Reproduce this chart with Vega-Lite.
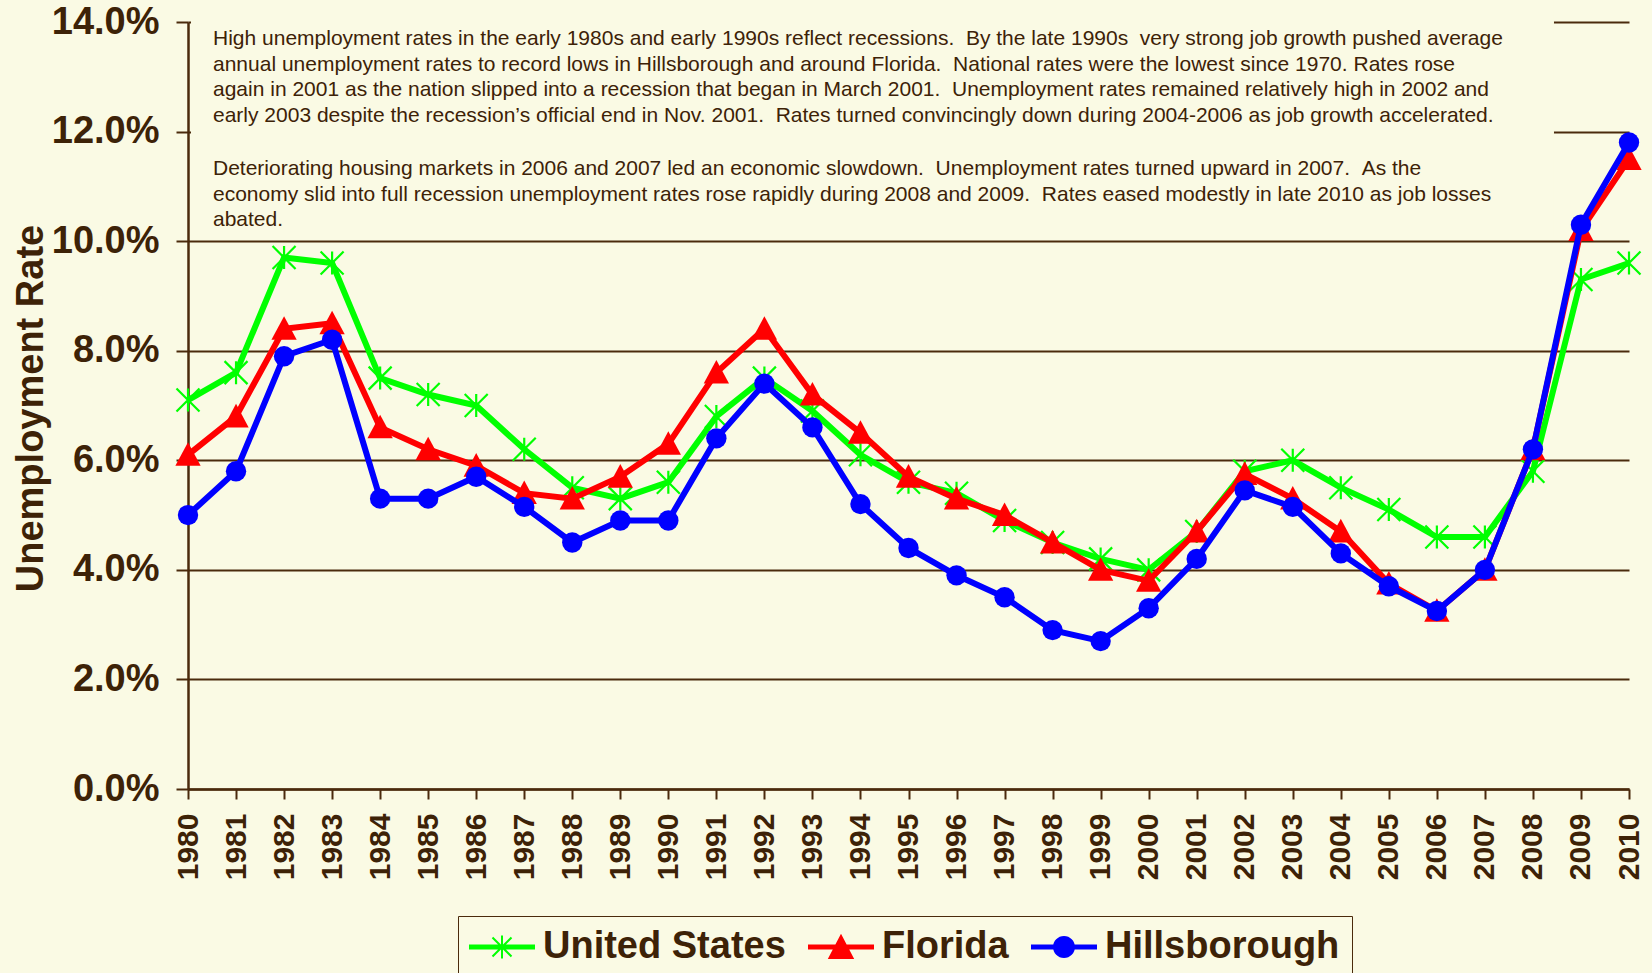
{
  "$schema": "https://vega.github.io/schema/vega-lite/v6.json",
  "width": 1441,
  "height": 767,
  "autosize": {"type": "none"},
  "padding": {"left": 188, "top": 22, "right": 23, "bottom": 184},
  "background": "#fafae4",
  "config": {
    "view": {"stroke": null},
    "font": "Liberation Sans",
    "axisX": {
      "format": "d",
      "labelAngle": 270,
      "labelAlign": "right",
      "labelBaseline": "middle",
      "labelFontSize": 30,
      "labelFontWeight": "bold",
      "labelColor": "#3d2207",
      "labelPadding": 14,
      "labelFlush": false,
      "labelOverlap": false,
      "tickSize": 10,
      "tickWidth": 2,
      "tickColor": "#4a2a0c",
      "domainColor": "#4a2a0c",
      "domainWidth": 2.5,
      "grid": false
    },
    "axisY": {
      "labelExpr": "format(datum.value, '.1f') + '%'",
      "labelFontSize": 38,
      "labelFontWeight": "bold",
      "labelColor": "#3d2207",
      "labelPadding": 17,
      "labelFlush": false,
      "labelOverlap": false,
      "tickSize": 12,
      "tickWidth": 2,
      "tickColor": "#4a2a0c",
      "domainColor": "#4a2a0c",
      "domainWidth": 2.5,
      "grid": true,
      "gridColor": "#4a2a0c",
      "gridWidth": 2,
      "gridOpacity": 1,
      "titleFontSize": 38,
      "titleFontWeight": "bold",
      "titleColor": "#3d2207",
      "titleAngle": 270,
      "titleX": -146,
      "titleY": 386,
      "titleAlign": "center",
      "titleBaseline": "alphabetic"
    },
    "legend": {
      "orient": "none",
      "legendX": 270,
      "legendY": 894,
      "direction": "horizontal",
      "fillColor": "#fafae4",
      "strokeColor": "#4a2a0c",
      "padding": 12,
      "labelFontSize": 38,
      "labelFontWeight": "bold",
      "labelColor": "#3d2207",
      "labelFont": "Liberation Sans",
      "labelLimit": 500,
      "symbolSize": 484,
      "symbolOffset": 13,
      "labelOffset": 22,
      "columnPadding": 22,
      "symbolStrokeWidth": 0
    }
  },
  "datasets": {
    "rates": [
      {"year":1980,"series":"United States","rate":7.1},{"year":1981,"series":"United States","rate":7.6},{"year":1982,"series":"United States","rate":9.7},{"year":1983,"series":"United States","rate":9.6},{"year":1984,"series":"United States","rate":7.5},{"year":1985,"series":"United States","rate":7.2},{"year":1986,"series":"United States","rate":7.0},{"year":1987,"series":"United States","rate":6.2},{"year":1988,"series":"United States","rate":5.5},{"year":1989,"series":"United States","rate":5.3},{"year":1990,"series":"United States","rate":5.6},{"year":1991,"series":"United States","rate":6.8},{"year":1992,"series":"United States","rate":7.5},{"year":1993,"series":"United States","rate":6.9},{"year":1994,"series":"United States","rate":6.1},{"year":1995,"series":"United States","rate":5.6},{"year":1996,"series":"United States","rate":5.4},{"year":1997,"series":"United States","rate":4.9},{"year":1998,"series":"United States","rate":4.5},{"year":1999,"series":"United States","rate":4.2},{"year":2000,"series":"United States","rate":4.0},{"year":2001,"series":"United States","rate":4.7},{"year":2002,"series":"United States","rate":5.8},{"year":2003,"series":"United States","rate":6.0},{"year":2004,"series":"United States","rate":5.5},{"year":2005,"series":"United States","rate":5.1},{"year":2006,"series":"United States","rate":4.6},{"year":2007,"series":"United States","rate":4.6},{"year":2008,"series":"United States","rate":5.8},{"year":2009,"series":"United States","rate":9.3},{"year":2010,"series":"United States","rate":9.6},
      {"year":1980,"series":"Florida","rate":6.1},{"year":1981,"series":"Florida","rate":6.8},{"year":1982,"series":"Florida","rate":8.4},{"year":1983,"series":"Florida","rate":8.5},{"year":1984,"series":"Florida","rate":6.6},{"year":1985,"series":"Florida","rate":6.2},{"year":1986,"series":"Florida","rate":5.9},{"year":1987,"series":"Florida","rate":5.4},{"year":1988,"series":"Florida","rate":5.3},{"year":1989,"series":"Florida","rate":5.7},{"year":1990,"series":"Florida","rate":6.3},{"year":1991,"series":"Florida","rate":7.6},{"year":1992,"series":"Florida","rate":8.4},{"year":1993,"series":"Florida","rate":7.2},{"year":1994,"series":"Florida","rate":6.5},{"year":1995,"series":"Florida","rate":5.7},{"year":1996,"series":"Florida","rate":5.3},{"year":1997,"series":"Florida","rate":5.0},{"year":1998,"series":"Florida","rate":4.5},{"year":1999,"series":"Florida","rate":4.0},{"year":2000,"series":"Florida","rate":3.8},{"year":2001,"series":"Florida","rate":4.7},{"year":2002,"series":"Florida","rate":5.75},{"year":2003,"series":"Florida","rate":5.3},{"year":2004,"series":"Florida","rate":4.7},{"year":2005,"series":"Florida","rate":3.75},{"year":2006,"series":"Florida","rate":3.25},{"year":2007,"series":"Florida","rate":4.0},{"year":2008,"series":"Florida","rate":6.2},{"year":2009,"series":"Florida","rate":10.2},{"year":2010,"series":"Florida","rate":11.5},
      {"year":1980,"series":"Hillsborough","rate":5.0},{"year":1981,"series":"Hillsborough","rate":5.8},{"year":1982,"series":"Hillsborough","rate":7.9},{"year":1983,"series":"Hillsborough","rate":8.2},{"year":1984,"series":"Hillsborough","rate":5.3},{"year":1985,"series":"Hillsborough","rate":5.3},{"year":1986,"series":"Hillsborough","rate":5.7},{"year":1987,"series":"Hillsborough","rate":5.15},{"year":1988,"series":"Hillsborough","rate":4.5},{"year":1989,"series":"Hillsborough","rate":4.9},{"year":1990,"series":"Hillsborough","rate":4.9},{"year":1991,"series":"Hillsborough","rate":6.4},{"year":1992,"series":"Hillsborough","rate":7.4},{"year":1993,"series":"Hillsborough","rate":6.6},{"year":1994,"series":"Hillsborough","rate":5.2},{"year":1995,"series":"Hillsborough","rate":4.4},{"year":1996,"series":"Hillsborough","rate":3.9},{"year":1997,"series":"Hillsborough","rate":3.5},{"year":1998,"series":"Hillsborough","rate":2.9},{"year":1999,"series":"Hillsborough","rate":2.7},{"year":2000,"series":"Hillsborough","rate":3.3},{"year":2001,"series":"Hillsborough","rate":4.2},{"year":2002,"series":"Hillsborough","rate":5.45},{"year":2003,"series":"Hillsborough","rate":5.15},{"year":2004,"series":"Hillsborough","rate":4.3},{"year":2005,"series":"Hillsborough","rate":3.7},{"year":2006,"series":"Hillsborough","rate":3.25},{"year":2007,"series":"Hillsborough","rate":4.0},{"year":2008,"series":"Hillsborough","rate":6.2},{"year":2009,"series":"Hillsborough","rate":10.3},{"year":2010,"series":"Hillsborough","rate":11.8}
    ],
    "notes": [
      {"para": 1, "note": [
        "High unemployment rates in the early 1980s and early 1990s reflect recessions. \u00a0By the late 1990s \u00a0very strong job growth pushed average",
        "annual unemployment rates to record lows in Hillsborough and around Florida. \u00a0National rates were the lowest since 1970. Rates rose",
        "again in 2001 as the nation slipped into a recession that began in March 2001. \u00a0Unemployment rates remained relatively high in 2002 and",
        "early 2003 despite the recession’s official end in Nov. 2001. \u00a0Rates turned convincingly down during 2004-2006 as job growth accelerated."
      ]},
      {"para": 2, "note": [
        "Deteriorating housing markets in 2006 and 2007 led an economic slowdown. \u00a0Unemployment rates turned upward in 2007. \u00a0As the",
        "economy slid into full recession unemployment rates rose rapidly during 2008 and 2009. \u00a0Rates eased modestly in late 2010 as job losses",
        "abated."
      ]}
    ]
  },
  "data": {"name": "rates"},
  "layer": [
    {
      "mark": {"type": "rect", "fill": "#fafae4"},
      "encoding": {
        "x": {"datum": 1980.07, "type": "quantitative", "scale": {"domain": [1980, 2010], "nice": false, "zero": false}, "title": null,
          "axis": {"values": [1980,1981,1982,1983,1984,1985,1986,1987,1988,1989,1990,1991,1992,1993,1994,1995,1996,1997,1998,1999,2000,2001,2002,2003,2004,2005,2006,2007,2008,2009,2010]}},
        "x2": {"datum": 2008.42},
        "y": {"datum": 10.06, "type": "quantitative", "scale": {"domain": [0, 14], "nice": false, "zero": true}, "title": "Unemployment Rate",
          "axis": {"values": [0,2,4,6,8,10,12,14]}},
        "y2": {"datum": 14.5}
      }
    },
    {
      "data": {"name": "notes"},
      "transform": [{"filter": "datum.para === 1"}],
      "mark": {"type": "text", "align": "left", "baseline": "alphabetic", "dx": 25, "dy": 23, "fontSize": 21, "lineHeight": 25.7, "color": "#3d2207", "font": "Liberation Sans"},
      "encoding": {
        "x": {"datum": 1980, "type": "quantitative", "title": null},
        "y": {"datum": 14, "type": "quantitative", "title": "Unemployment Rate"},
        "text": {"field": "note", "type": "nominal"}
      }
    },
    {
      "data": {"name": "notes"},
      "transform": [{"filter": "datum.para === 2"}],
      "mark": {"type": "text", "align": "left", "baseline": "alphabetic", "dx": 25, "dy": 153, "fontSize": 21, "lineHeight": 25.7, "color": "#3d2207", "font": "Liberation Sans"},
      "encoding": {
        "x": {"datum": 1980, "type": "quantitative", "title": null},
        "y": {"datum": 14, "type": "quantitative", "title": "Unemployment Rate"},
        "text": {"field": "note", "type": "nominal"}
      }
    },
    {
      "transform": [{"filter": "datum.series === 'United States'"}],
      "mark": {"type": "line", "color": "#00ff00", "strokeWidth": 6,
        "point": {"shape": "M0,-1L0,1M-1,-1L1,1M-1,1L1,-1", "filled": false, "size": 529, "strokeWidth": 2.2, "color": "#00ff00", "opacity": 1}},
      "encoding": {
        "x": {"field": "year", "type": "quantitative", "title": null},
        "y": {"field": "rate", "type": "quantitative", "title": "Unemployment Rate"}
      }
    },
    {
      "transform": [{"filter": "datum.series === 'Florida'"}],
      "mark": {"type": "line", "color": "#ff0000", "strokeWidth": 6,
        "point": {"shape": "M0,-1.1L1.1,0.95L-1.1,0.95Z", "filled": true, "size": 529, "color": "#ff0000", "opacity": 1}},
      "encoding": {
        "x": {"field": "year", "type": "quantitative", "title": null},
        "y": {"field": "rate", "type": "quantitative", "title": "Unemployment Rate"}
      }
    },
    {
      "transform": [{"filter": "datum.series === 'Hillsborough'"}],
      "mark": {"type": "line", "color": "#0000ff", "strokeWidth": 6,
        "point": {"shape": "circle", "filled": true, "size": 415, "color": "#0000ff", "opacity": 1}},
      "encoding": {
        "x": {"field": "year", "type": "quantitative", "title": null},
        "y": {"field": "rate", "type": "quantitative", "title": "Unemployment Rate"}
      }
    },
    {
      "transform": [{"filter": "false"}],
      "mark": {"type": "point", "filled": true, "opacity": 1, "size": 484, "strokeWidth": 0},
      "encoding": {
        "color": {"field": "series", "type": "nominal",
          "scale": {"domain": ["United States", "Florida", "Hillsborough"], "range": ["#00ff00", "#ff0000", "#0000ff"]},
          "legend": {"title": null, "encode": {"legend": {"update": {"strokeWidth": {"value": 2.5}}}}}},
        "shape": {"field": "series", "type": "nominal",
          "scale": {"domain": ["United States", "Florida", "Hillsborough"],
            "range": [
              "M-3,-0.22H3V0.22H-3Z M-0.09,-1.05H0.09V1.05H-0.09Z M-0.8,-0.93L0.93,0.8L0.8,0.93L-0.93,-0.8Z M0.8,-0.93L0.93,-0.8L-0.8,0.93L-0.93,0.8Z",
              "M-3,-0.22H3V0.22H-3Z M0,-1.2L1.2,1.1L-1.2,1.1Z",
              "M-3,-0.22H3V0.22H-3Z M1,0A1,1 0 0,1 -1,0A1,1 0 0,1 1,0Z"
            ]},
          "legend": {"title": null}}
      }
    }
  ]
}
